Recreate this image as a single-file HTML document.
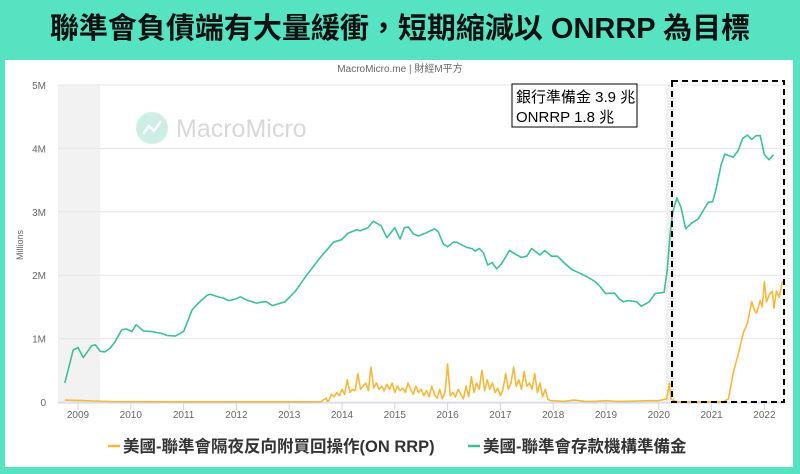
<!DOCTYPE html>
<html><head><meta charset="utf-8">
<style>
body{margin:0;width:800px;height:474px;background:#55e3c2;font-family:"Liberation Sans","Noto Sans CJK TC",sans-serif;overflow:hidden;position:relative}
#title{position:absolute;left:0;top:0;width:800px;height:60px;line-height:58px;text-align:center;font-size:29px;font-weight:bold;color:#111;font-family:"Liberation Sans","Noto Sans CJK TC",sans-serif}
#panel{position:absolute;left:5px;top:60px;width:788px;height:407px;background:#fff}
svg{position:absolute;left:0;top:0}
</style></head><body>
<div id="title">聯準會負債端有大量緩衝，短期縮減以 ONRRP 為目標</div>
<div id="panel"></div>
<svg id="chart" width="800" height="474"></svg>
<script>
const yTicks=[0,1,2,3,4,5];
const yTickLabels=["0","1M","2M","3M","4M","5M"];
const xTicks=[2009,2010,2011,2012,2013,2014,2015,2016,2017,2018,2019,2020,2021,2022];
const recessions=[[2008.6,2009.42],[2020.13,2020.3]];
const resYears=[2008.75,2008.91,2009.0,2009.10,2009.26,2009.33,2009.42,2009.51,2009.61,2009.70,2009.83,2009.92,2010.02,2010.10,2010.24,2010.40,2010.59,2010.68,2010.84,2011.0,2011.16,2011.28,2011.44,2011.50,2011.69,2011.75,2011.85,2011.97,2012.08,2012.19,2012.38,2012.51,2012.57,2012.68,2012.92,2013.11,2013.33,2013.58,2013.84,2013.99,2014.11,2014.28,2014.34,2014.49,2014.59,2014.74,2014.85,2015.0,2015.10,2015.18,2015.26,2015.35,2015.45,2015.60,2015.75,2015.82,2015.92,2016.0,2016.11,2016.17,2016.36,2016.46,2016.52,2016.60,2016.68,2016.76,2016.84,2016.93,2017.02,2017.17,2017.31,2017.40,2017.50,2017.59,2017.75,2017.84,2017.97,2018.08,2018.20,2018.35,2018.51,2018.63,2018.79,2018.89,2018.99,2019.16,2019.25,2019.33,2019.42,2019.58,2019.67,2019.82,2019.93,2020.10,2020.16,2020.21,2020.26,2020.34,2020.42,2020.51,2020.62,2020.75,2020.89,2020.94,2021.02,2021.08,2021.18,2021.25,2021.41,2021.50,2021.59,2021.68,2021.76,2021.84,2021.92,2022.0,2022.09,2022.17];
const resValues=[0.30,0.82,0.86,0.70,0.89,0.90,0.80,0.79,0.85,0.95,1.14,1.15,1.11,1.22,1.12,1.11,1.08,1.05,1.04,1.11,1.45,1.56,1.68,1.70,1.65,1.64,1.60,1.62,1.66,1.61,1.56,1.58,1.58,1.52,1.58,1.74,2.0,2.27,2.52,2.56,2.66,2.72,2.70,2.75,2.85,2.78,2.59,2.75,2.57,2.75,2.76,2.65,2.62,2.67,2.73,2.69,2.49,2.45,2.52,2.52,2.44,2.42,2.38,2.42,2.35,2.16,2.20,2.10,2.18,2.39,2.32,2.28,2.30,2.42,2.32,2.39,2.30,2.30,2.20,2.09,2.03,1.98,1.90,1.82,1.71,1.72,1.63,1.58,1.60,1.58,1.51,1.58,1.71,1.73,2.08,2.61,2.98,3.22,3.07,2.73,2.82,2.89,3.09,3.15,3.16,3.34,3.74,3.91,3.86,3.96,4.16,4.21,4.14,4.20,4.20,3.90,3.82,3.90];
const rrpYears=[2008.75,2009.0,2009.3,2009.6,2010.0,2011.0,2012.0,2013.0,2013.6,2013.70,2013.72,2013.75,2013.8,2013.85,2013.9,2013.95,2014.0,2014.05,2014.1,2014.15,2014.2,2014.25,2014.3,2014.35,2014.4,2014.45,2014.5,2014.55,2014.6,2014.65,2014.7,2014.75,2014.8,2014.85,2014.9,2014.95,2015.0,2015.05,2015.1,2015.15,2015.2,2015.25,2015.3,2015.35,2015.4,2015.45,2015.5,2015.55,2015.6,2015.65,2015.7,2015.75,2015.8,2015.85,2015.9,2015.95,2016.0,2016.05,2016.1,2016.15,2016.2,2016.25,2016.3,2016.35,2016.4,2016.45,2016.5,2016.55,2016.6,2016.65,2016.7,2016.75,2016.8,2016.85,2016.9,2016.95,2017.0,2017.05,2017.1,2017.15,2017.2,2017.25,2017.3,2017.35,2017.4,2017.45,2017.5,2017.55,2017.6,2017.65,2017.7,2017.75,2017.8,2017.85,2017.9,2017.95,2018.0,2018.2,2018.4,2018.6,2018.8,2019.0,2019.2,2019.4,2019.6,2019.8,2020.0,2020.15,2020.2,2020.23,2020.28,2020.35,2020.6,2021.0,2021.22,2021.32,2021.41,2021.51,2021.60,2021.68,2021.76,2021.81,2021.85,2021.92,2021.96,2022.0,2022.04,2022.1,2022.15,2022.18,2022.23,2022.28,2022.34];
const rrpValues=[0.03,0.025,0.015,0.006,0.004,0.003,0.003,0.003,0.004,0.06,0.01,0.02,0.12,0.08,0.15,0.1,0.2,0.12,0.35,0.15,0.2,0.18,0.45,0.2,0.25,0.3,0.18,0.55,0.22,0.3,0.2,0.25,0.18,0.28,0.2,0.3,0.15,0.25,0.18,0.22,0.15,0.3,0.2,0.12,0.25,0.15,0.2,0.1,0.18,0.08,0.25,0.12,0.06,0.2,0.05,0.15,0.6,0.1,0.15,0.08,0.2,0.12,0.05,0.25,0.08,0.4,0.15,0.3,0.2,0.5,0.18,0.35,0.2,0.3,0.15,0.22,0.1,0.2,0.45,0.2,0.3,0.55,0.25,0.35,0.2,0.48,0.25,0.3,0.2,0.45,0.15,0.3,0.08,0.2,0.04,0.02,0.02,0.01,0.03,0.01,0.01,0.02,0.01,0.01,0.015,0.02,0.02,0.05,0.3,0.05,0.02,0.003,0.001,0.001,0.001,0.05,0.46,0.77,1.09,1.25,1.58,1.45,1.40,1.60,1.50,1.90,1.58,1.70,1.75,1.48,1.75,1.65,1.90];
const NS="http://www.w3.org/2000/svg";
const svg=document.getElementById('chart');
const X0=78,XS=52.8,Y0=402,YS=63.4;
const xs=y=>X0+(y-2009)*XS, ys=v=>Y0-v*YS;
const L=58,R=785;
function el(t,a,p){const e=document.createElementNS(NS,t);for(const k in a)e.setAttribute(k,a[k]);(p||svg).appendChild(e);return e;}
recessions.forEach(r=>{const e=el('rect',{x:Math.max(L,xs(r[0])),y:ys(5),width:xs(r[1])-Math.max(L,xs(r[0])),height:ys(0)-ys(5),fill:'#f2f2f2'});

});
yTicks.forEach((t,i)=>{const g=el('line',{x1:L,x2:R,y1:ys(t),y2:ys(t),stroke:'#e6e6e6','stroke-width':1});


const tx=el('text',{x:46,y:ys(t)+4,'text-anchor':'end','font-size':10,fill:'#666'});tx.textContent=yTickLabels[i];

});
el('line',{x1:L,x2:R,y1:Y0+1,y2:Y0+1,stroke:'#ccd6eb','stroke-width':1});
xTicks.forEach(t=>{el('line',{x1:xs(t),x2:xs(t),y1:Y0+1,y2:Y0+8,stroke:'#ccd6eb'});
const tx=el('text',{x:xs(t),y:418,'text-anchor':'middle','font-size':10,fill:'#666'});tx.textContent=t;

});
const yt=el('text',{x:23,y:245,'text-anchor':'middle','font-size':9,fill:'#666',transform:'rotate(-90 23 245)'});yt.textContent='Millions';


const src=el('text',{x:400,y:72,'text-anchor':'middle','font-size':10,fill:'#666'});src.textContent='MacroMicro.me | 財經M平方';


const wm=el('g',{opacity:0.25});


el('circle',{cx:152,cy:128,r:16,fill:'#3dbf98'},wm);
el('polyline',{points:'143,134 149,126 154,131 161,121',fill:'none',stroke:'#fff','stroke-width':2.5},wm);
const wt=el('text',{x:176,y:137,'font-size':25,fill:'#666'},wm);wt.textContent='MacroMicro';
function line(xa,va,c,name){const p=el('path',{d:xa.map((x,i)=>(i?'L':'M')+xs(x).toFixed(1)+','+ys(va[i]).toFixed(1)).join(''),fill:'none',stroke:c,'stroke-width':1.6,'stroke-linejoin':'round'});

}
line(rrpYears,rrpValues,'#f5b83d','on-rrp-line');
line(resYears,resValues,'#3dbf98','reserves-line');
const db=el('rect',{x:672,y:81,width:112,height:321,fill:'none',stroke:'#000','stroke-width':2,'stroke-dasharray':'6,4'});


const ab=el('g',{});


el('rect',{x:512,y:84,width:125,height:43,fill:'#fff',stroke:'#000','stroke-width':1},ab);
const a1=el('text',{x:516,y:102,'font-size':15,fill:'#000'},ab);a1.textContent='銀行準備金 3.9 兆';
const a2=el('text',{x:516,y:122,'font-size':15,fill:'#000'},ab);a2.textContent='ONRRP 1.8 兆';
function leg(x,c,t,n){const g=el('g',{});


el('line',{x1:x,x2:x+12,y1:446,y2:446,stroke:c,'stroke-width':2.5},g);
const tx=el('text',{x:x+15,y:452,'font-size':16.5,'font-weight':'bold',fill:'#333'},g);tx.textContent=t;}
leg(108,'#f5b83d','美國-聯準會隔夜反向附買回操作(ON RRP)','legend-entry-on-rrp');
leg(468,'#3dbf98','美國-聯準會存款機構準備金','legend-entry-reserves');
</script>
</body></html>
